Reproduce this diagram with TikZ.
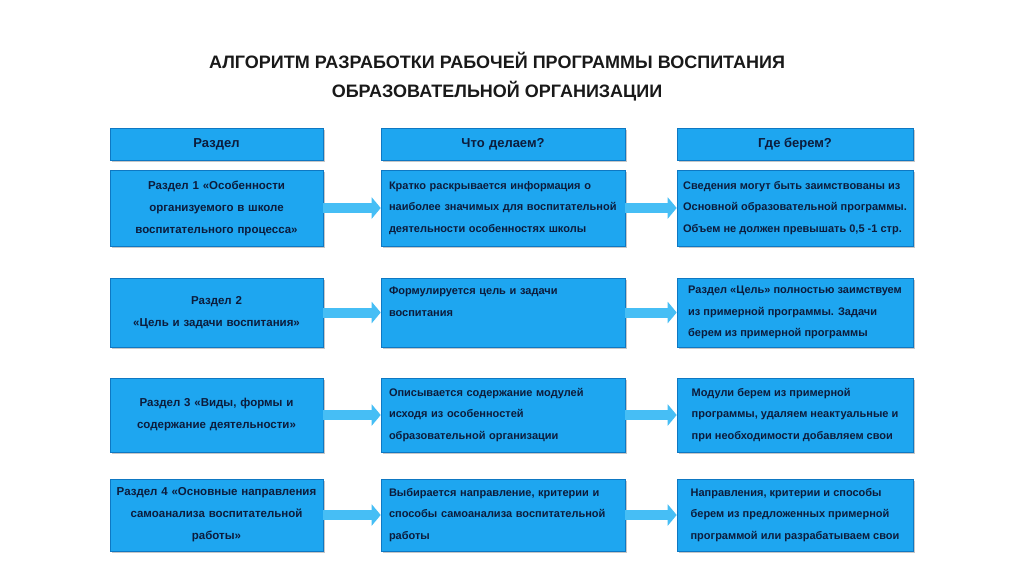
\documentclass[tikz,border=0pt]{standalone}
\usepackage{fontspec}
\setmainfont{Liberation Sans}
\usetikzlibrary{arrows.meta}
\definecolor{boxblue}{RGB}{30,166,240}
\definecolor{boxedge}{RGB}{14,120,195}
\definecolor{arrowblue}{RGB}{70,190,245}
\definecolor{textnavy}{RGB}{12,28,60}
\definecolor{titlegray}{RGB}{25,25,25}
\begin{document}
\begin{tikzpicture}[x=1pt, y=-1pt,
    cell/.style={fill=boxblue, draw=boxedge, line width=0.6pt, inner sep=0pt, text=textnavy,
        font=\bfseries\fontsize{11}{21.5}\selectfont,
        preaction={fill=black!22, transform canvas={xshift=1.5pt, yshift=-2pt}}},
    colA/.style={cell, minimum width=213pt, text width=207pt, align=center, font=\bfseries\fontsize{11.5}{22}\selectfont},
    colB/.style={cell, minimum width=244pt, text width=228pt, align=left},
    colC/.style={cell, minimum width=236pt, align=left},
    head/.style={minimum height=32pt, align=center, font=\bfseries\fontsize{13}{15}\selectfont},
    flow/.style={draw=arrowblue, line width=10pt, -{Triangle[length=9pt, width=21pt]}},
    title/.style={text=titlegray, font=\bfseries\fontsize{18}{21}\selectfont}]
    \useasboundingbox[fill=white] (0,0) rectangle (1024,574);
    \node[title] (t1) at (497,60) {АЛГОРИТМ РАЗРАБОТКИ РАБОЧЕЙ ПРОГРАММЫ ВОСПИТАНИЯ};
    \node[title] (t2) at (497,91) {ОБРАЗОВАТЕЛЬНОЙ ОРГАНИЗАЦИИ};
    \node[colA, head] (hA) at (216.5,144) {Раздел};
    \node[colB, head] (hB) at (503,144) {Что делаем?};
    \node[colC, head] (hC) at (795,144) {Где берем?};
    \node[colA, minimum height=76pt] (r1a) at (216.5,208) {Раздел 1 «Особенности\\ организуемого в школе\\ воспитательного процесса»};
    \node[colB, minimum height=76pt] (r1b) at (503,208) {Кратко раскрывается информация о\\ наиболее значимых для воспитательной\\ деятельности особенностях школы};
    \node[colC, minimum height=76pt] (r1c) at (795,208) {Сведения могут быть заимствованы из\\ Основной образовательной программы.\\ Объем не должен превышать 0,5 -1 стр.};
    \node[colA, minimum height=69pt] (r2a) at (216.5,312.5) {Раздел 2\\ «Цель и задачи воспитания»};
    \node[colB, minimum height=69pt] (r2b) at (503,312.5) {Формулируется цель и задачи\\ воспитания\\ \mbox{}};
    \node[colC, minimum height=69pt] (r2c) at (795,312.5) {Раздел «Цель» полностью заимствуем\\ из примерной программы. Задачи\\ берем из примерной программы};
    \node[colA, minimum height=74pt] (r3a) at (216.5,415) {Раздел 3 «Виды, формы и\\ содержание деятельности»};
    \node[colB, minimum height=74pt] (r3b) at (503,415) {Описывается содержание модулей\\ исходя из особенностей\\ образовательной организации};
    \node[colC, minimum height=74pt] (r3c) at (795,415) {Модули берем из примерной\\ программы, удаляем неактуальные и\\ при необходимости добавляем свои};
    \node[colA, minimum height=72pt] (r4a) at (216.5,515) {Раздел 4 «Основные направления\\ самоанализа воспитательной\\ работы»};
    \node[colB, minimum height=72pt] (r4b) at (503,515) {Выбирается направление, критерии и\\ способы самоанализа воспитательной\\ работы};
    \node[colC, minimum height=72pt] (r4c) at (795,515) {Направления, критерии и способы\\ берем из предложенных примерной\\ программой или разрабатываем свои};
    \draw[flow] (r1a.east) -- (r1b.west);
    \draw[flow] (r1b.east) -- (r1c.west);
    \draw[flow] (r2a.east) -- (r2b.west);
    \draw[flow] (r2b.east) -- (r2c.west);
    \draw[flow] (r3a.east) -- (r3b.west);
    \draw[flow] (r3b.east) -- (r3c.west);
    \draw[flow] (r4a.east) -- (r4b.west);
    \draw[flow] (r4b.east) -- (r4c.west);
\end{tikzpicture}
\end{document}
